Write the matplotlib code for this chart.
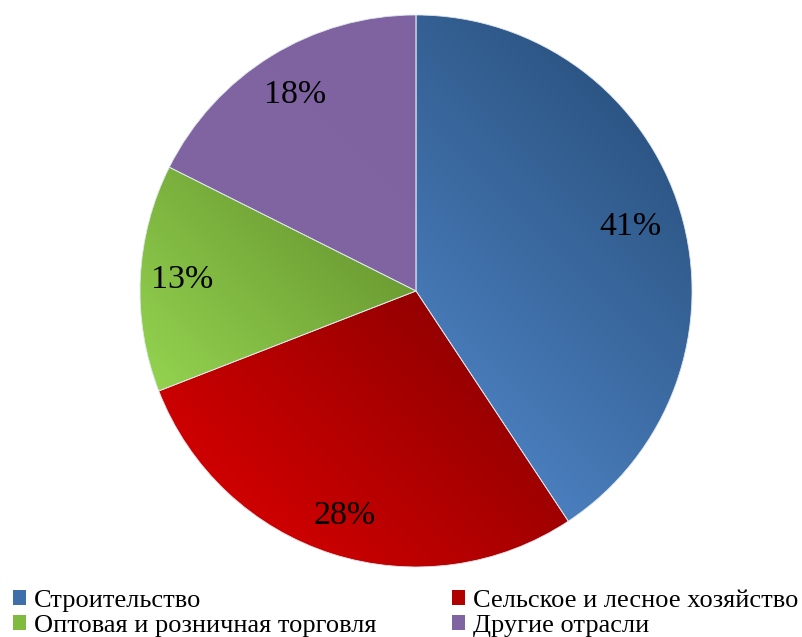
import numpy as np
import matplotlib
matplotlib.use('Agg')
import matplotlib.pyplot as plt
from matplotlib.patches import Patch
from matplotlib.colors import to_rgb

# data
labels = ['Строительство', 'Сельское и лесное хозяйство',
          'Оптовая и розничная торговля', 'Другие отрасли']
values = [40.7, 28.4, 13.3, 17.6]
# (light, dark) ends of each slice's gradient
light_cols = ['#4A7EBD', '#CF0000', '#93D24F', '#8165A3']
dark_cols = ['#2C5584', '#940000', '#6C9D33', '#7F63A1']
legend_cols = ['#3F6FAA', '#B00000', '#80BB40', '#8064A2']
# radial position of each percent label (fraction of radius), "best fit" look
label_dist = [0.81, 0.855, 0.85, 0.835]

plt.rcParams['font.family'] = ['Liberation Serif', 'DejaVu Serif']

fig = plt.figure(figsize=(8.02, 6.37), dpi=100)
ax = fig.add_axes([0.1746, 0.1099, 0.6883, 0.8666])

wedges, texts, autotexts = ax.pie(
    values, startangle=90, counterclock=False, radius=1,
    colors=legend_cols, autopct='%1.0f%%', pctdistance=1.0,
    wedgeprops=dict(linewidth=0.6, edgecolor='#dfe6ee'),
    textprops=dict(fontsize=24.5, color='black'))

# gradient fill along the diagonal: light at lower-left, dark at upper-right
n = 300
gx, gy = np.meshgrid(np.linspace(-1, 1, n), np.linspace(-1, 1, n))
proj = gx + gy
for w, lc, dc in zip(wedges, light_cols, dark_cols):
    verts = w.get_path().vertices
    p = verts[:, 0] + verts[:, 1]
    t = np.clip((proj - p.min()) / (p.max() - p.min()), 0, 1)
    c0 = np.array(to_rgb(lc))
    c1 = np.array(to_rgb(dc))
    img = c0[None, None, :] * (1 - t[..., None]) + c1[None, None, :] * t[..., None]
    im = ax.imshow(img, extent=[-1, 1, -1, 1], origin='lower',
                   interpolation='bilinear', zorder=1)
    im.set_clip_path(w)
    w.set_facecolor('none')
    w.set_zorder(2)

for t, d in zip(autotexts, label_dist):
    t.set_zorder(10)
    x, y = t.get_position()
    t.set_position((x * d, y * d))

ax.set_xlim(-1, 1)
ax.set_ylim(-1, 1)
ax.set_aspect('equal')
ax.axis('off')

order = [0, 2, 1, 3]
handles = [Patch(facecolor=legend_cols[i], edgecolor='none') for i in order]
fig.legend(handles, [labels[i] for i in order], ncol=2, loc='lower left',
           bbox_to_anchor=(-0.007, -0.029), frameon=False, fontsize=19,
           handlelength=0.5, handleheight=0.5, handletextpad=0.3,
           columnspacing=2.85, labelspacing=0.12, borderpad=0.2)

fig.savefig('out.png', dpi=100)
